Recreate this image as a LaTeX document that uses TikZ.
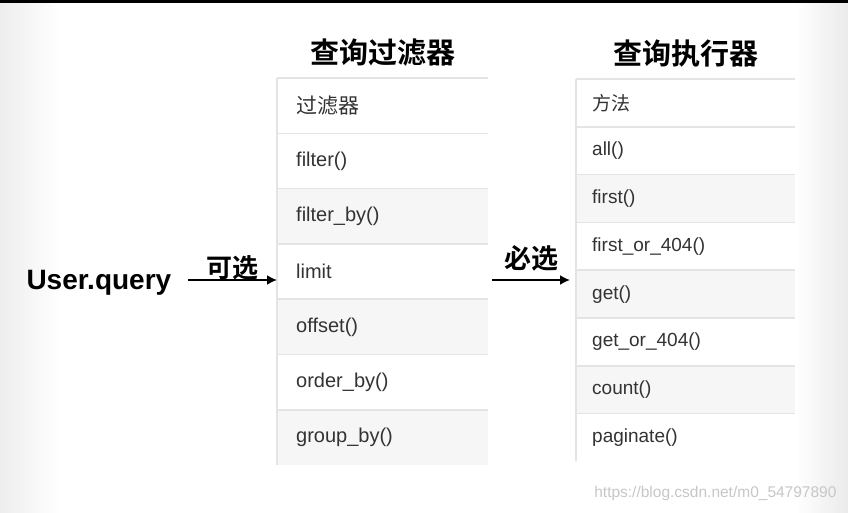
\documentclass[tikz,border=0pt]{standalone}
\usepackage{fontspec}
\setmainfont{Liberation Sans}
\newfontfamily\cjk{Noto Sans CJK SC}[BoldFont={Noto Sans CJK SC Bold}]
\usetikzlibrary{arrows.meta, positioning}
\definecolor{rowgray}{HTML}{F6F6F6}
\definecolor{rule}{HTML}{E4E4E4}
\definecolor{ink}{HTML}{333333}
\tikzstyle{frow} = [rectangle, fill=white, minimum width=211pt, minimum height=54.9pt, text width=173pt, inner xsep=19pt, inner ysep=0pt, align=left, text=ink, font=\fontsize{20}{23}\selectfont]
\tikzstyle{mrow} = [rectangle, fill=white, minimum width=219pt, minimum height=47.4pt, text width=187pt, inner xsep=16pt, inner ysep=0pt, align=left, text=ink, font=\fontsize{19}{22}\selectfont]
\tikzstyle{alt} = [fill=rowgray]
\tikzstyle{title} = [font=\cjk\bfseries\fontsize{29}{32}\selectfont]
\tikzstyle{line} = [draw, line width=1.8pt, -{Latex[length=10pt, width=10pt]}]

\begin{document}
\begin{tikzpicture}[x=1pt, y=-1pt, node distance=0pt]
        % Background
        \useasboundingbox (0,0) rectangle (848,512);
        \fill[white] (0,0) rectangle (848,512);
        \shade[left color=black!7, right color=white] (0,3) rectangle (60,512);
        \shade[left color=white, right color=black!8] (795,3) rectangle (848,512);
        \fill[black] (0,0) rectangle (848,3);

        % Filter table
        \node [frow, anchor=north west] (f0) at (277,78) {\cjk\fontsize{21}{24}\selectfont 过滤器};
        \node [frow, below=of f0] (f1) {filter()};
        \node [frow, alt, below=of f1] (f2) {filter\_by()};
        \node [frow, below=of f2] (f3) {limit};
        \node [frow, alt, below=of f3] (f4) {offset()};
        \node [frow, below=of f4] (f5) {order\_by()};
        \node [frow, alt, below=of f5] (f6) {group\_by()};
        \foreach \r in {f0,f1,f2,f3,f4,f5,f6}
            \draw [rule, line width=1.5pt] (\r.north west) -- (\r.north east);
        \draw [rule, line width=1.2pt] (f0.north west) -- (f6.south west);

        % Method table
        \node [mrow, anchor=north west] (m0) at (576,79) {\cjk 方法};
        \node [mrow, below=of m0] (m1) {all()};
        \node [mrow, alt, below=of m1] (m2) {first()};
        \node [mrow, below=of m2] (m3) {first\_or\_404()};
        \node [mrow, alt, below=of m3] (m4) {get()};
        \node [mrow, below=of m4] (m5) {get\_or\_404()};
        \node [mrow, alt, below=of m5] (m6) {count()};
        \node [mrow, below=of m6] (m7) {paginate()};
        \foreach \r in {m0,m1,m2,m3,m4,m5,m6,m7}
            \draw [rule, line width=1.5pt] (\r.north west) -- (\r.north east);
        \draw [rule, line width=1.2pt] (m0.north west) -- (m7.south west);

        % Titles
        \node [title, above=8pt of f0] (ftitle) {查询过滤器};
        \node [title, above=8pt of m0] (mtitle) {查询执行器};

        % Source
        \node [font=\bfseries\fontsize{28}{31}\selectfont, anchor=west] (uq) at (23,283) {User.query};

        % Arrows
        \path [line] ([xshift=13pt]uq.east |- 0,280) coordinate (a1) -- (a1 -| f3.west)
            node [midway, above=-4pt, font=\cjk\bfseries\fontsize{26}{29}\selectfont] (opt) {可选};
        \path [line] ([xshift=4pt]f3.east |- 0,280) coordinate (a2) -- ([xshift=-6pt]a2 -| m4.west)
            node [midway, above=5pt, font=\cjk\bfseries\fontsize{27}{30}\selectfont] (req) {必选};

        % Watermark
        \node [anchor=east, text=black!22, font=\fontsize{15.5}{18}\selectfont] (wm) at (840,493) {https://blog.csdn.net/m0\_54797890};
    \end{tikzpicture}
\end{document}
